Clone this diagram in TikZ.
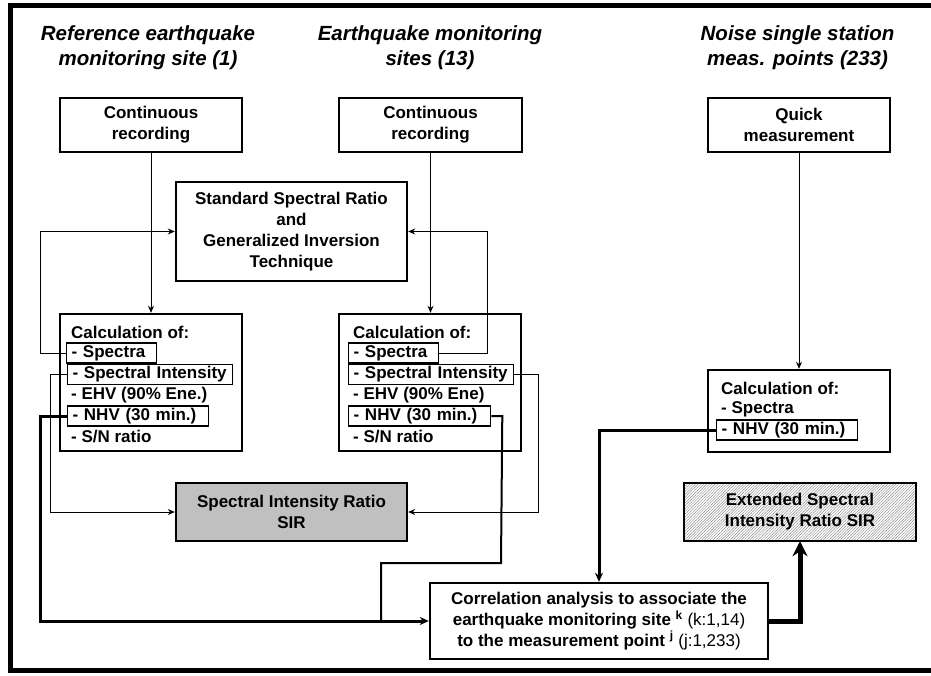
\documentclass[tikz,border=0pt]{standalone}
\usepackage{fontspec}
\setmainfont{Liberation Sans}
\usetikzlibrary{arrows.meta,patterns.meta}

\newcommand\bxfont{\fontsize{17}{20.8}\selectfont\bfseries}
\newcommand\ttlfont{\fontsize{20.5}{25}\selectfont\bfseries\itshape}

\tikzset{
  heading/.style={font=\ttlfont, align=center, inner sep=0pt},
  stepbox/.style={draw, line width=2.4pt, font=\bxfont, align=center, inner sep=0pt},
  item/.style={anchor=west, font=\bxfont, inner xsep=5pt, inner ysep=0pt,
    minimum height=20pt, align=left},
  subbox/.style={item, draw, line width=1.3pt},
  thinarrow/.style={line width=0.9pt, -{Stealth[length=7pt,width=6pt]}},
  thickarrow/.style={line width=3pt, -{Stealth[length=9pt,width=8pt]}},
  midline/.style={line width=2pt},
  boldarrow/.style={line width=5pt, -{Stealth[length=15pt,width=15pt]}},
}

\begin{document}
\begin{tikzpicture}[x=1pt,y=-1pt]
  % page and outer frame
  \fill[white] (0,0) rectangle (931,676);
  \useasboundingbox (0,0) rectangle (931,676);
  \draw[line width=5pt] (931,5.5) -- (10.5,5.5) -- (10.5,670.5) -- (931,670.5);

  % column headings
  \node[heading] (t1) at (148,47.5) {Reference earthquake\\monitoring site (1)};
  \node[heading] (t2) at (430,47.5) {Earthquake monitoring\\sites (13)};
  \node[heading] (t3) at (797.5,47.5) {Noise single station\\meas. points (233)};

  % acquisition boxes
  \node[stepbox, minimum width=182pt, minimum height=54pt] (cr1) at (151,125) {Continuous\\recording};
  \node[stepbox, minimum width=183pt, minimum height=54pt] (cr2) at (430.5,125) {Continuous\\recording};
  \node[stepbox, minimum width=182pt, minimum height=54pt] (qm) at (799,125) {Quick\\measurement};

  % SSR / GIT
  \node[stepbox, minimum width=231pt, minimum height=99pt] (ssr) at (291.5,231.5)
    {Standard Spectral Ratio\\and\\Generalized Inversion\\Technique};

  % calculation frames
  \node[stepbox, minimum width=182pt, minimum height=137pt] (calc1) at (151,382.5) {};
  \node[stepbox, minimum width=182pt, minimum height=137pt] (calc2) at (430,382.5) {};
  \node[stepbox, minimum width=182pt, minimum height=82pt] (calc3) at (799,411) {};

  % reference site items
  \node[item] (c1h) at (66,332) {Calculation of:};
  \node[subbox, text width=80pt] (c1s) at (66,353) {- Spectra};
  \node[subbox, text width=155pt] (c1i) at (67,374.5) {- Spectral Intensity};
  \node[item] (c1e) at (66,395) {- EHV (90\% Ene.)};
  \node[subbox, text width=131pt] (c1n) at (67,416) {- NHV (30 min.)};
  \node[item] (c1r) at (66,437) {- S/N ratio};

  % monitoring site items
  \node[item] (c2h) at (348,332) {Calculation of:};
  \node[subbox, text width=80pt] (c2s) at (348,353) {- Spectra};
  \node[subbox, text width=155pt] (c2i) at (348,374.5) {- Spectral Intensity};
  \node[item] (c2e) at (348,395) {- EHV (90\% Ene)};
  \node[subbox, text width=132pt] (c2n) at (348,416) {- NHV (30 min.)};
  \node[item] (c2r) at (348,437) {- S/N ratio};

  % noise point items
  \node[item] (c3h) at (716,388) {Calculation of:};
  \node[item] (c3s) at (716,409) {- Spectra};
  \node[subbox, text width=131pt] (c3n) at (716,430) {- NHV (30 min.)};

  % results
  \node[stepbox, minimum width=231pt, minimum height=58pt,
        fill={rgb,255:red,192;green,192;blue,192}] (sir) at (291.5,512)
    {Spectral Intensity Ratio\\SIR};
  \node[stepbox, minimum width=232pt, minimum height=58pt,
        pattern={Lines[angle=45,distance=2pt,line width=0.45pt]}, pattern color=black!45]
        (esir) at (800,512) {Extended Spectral\\Intensity Ratio SIR};
  \node[stepbox, minimum width=338pt, minimum height=76pt] (corr) at (599,621)
    {Correlation analysis to associate the\\
     earthquake monitoring site \textsuperscript{k} {\mdseries(k:1,14)}\\
     to the measurement point \textsuperscript{j} {\mdseries(j:1,233)}};

  % recording to calculation
  \draw[thinarrow] (cr1.south) -- (cr1.south |- calc1.north);
  \draw[thinarrow] (cr2.south) -- (cr2.south |- calc2.north);
  \draw[thinarrow] (qm.south) -- (qm.south |- calc3.north);

  % spectra to SSR / GIT
  \draw[thinarrow] (c1s.west) -- ++(-26,0) |- (ssr.west);
  \draw[thinarrow] (c2s.east) -- ++(48,0) |- (ssr.east);

  % spectral intensity to SIR
  \draw[thinarrow] (c1i.west) -- ++(-17,0) |- (sir.west);
  \draw[thinarrow] (c2i.east) -- ++(24,0) |- (sir.east);

  % NHV to correlation analysis
  \coordinate (jn) at (381,621);
  \draw[midline] (c2n.east) -- ++(11,0) -- (501,563) -| (jn);
  \draw[thickarrow] (c1n.west) -- ++(-27,0) |- (corr.west);
  \draw[thickarrow] (c3n.west) -| (corr.north);

  % correlation to extended SIR
  \draw[boldarrow] (corr.east) -| (esir.south);
\end{tikzpicture}
\end{document}
